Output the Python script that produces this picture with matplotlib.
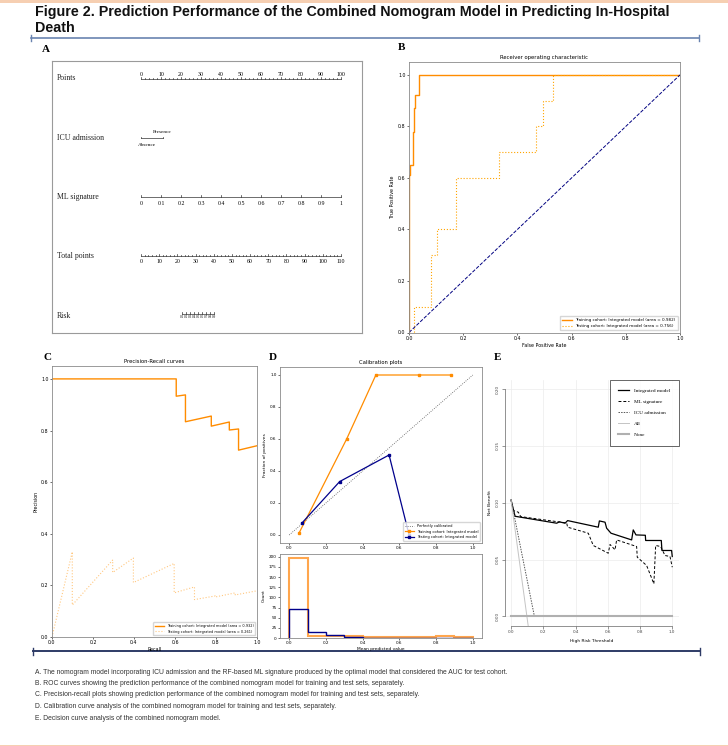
import matplotlib
matplotlib.use("Agg")
import matplotlib.pyplot as plt

W, H = 728, 746

# ---------------- data ----------------
title_lines = [
    "Figure 2. Prediction Performance of the Combined Nomogram Model in Predicting In-Hospital",
    "Death",
]
caption_lines = [
    "A. The nomogram model incorporating ICU admission and the RF-based ML signature produced by the optimal model that considered the AUC for test cohort.",
    "B. ROC curves showing the prediction performance of the combined nomogram model for training and test sets, separately.",
    "C. Precision-recall plots showing prediction performance of the combined nomogram model for training and test sets, separately.",
    "D. Calibration curve analysis of the combined nomogram model for training and test sets, separately.",
    "E. Decision curve analysis of the combined nomogram model.",
]

# A: nomogram
nomo_rows = ["Points", "ICU admission", "ML signature", "Total points", "Risk"]
points_ticks = [0, 10, 20, 30, 40, 50, 60, 70, 80, 90, 100]
icu_levels = ["Absence", "Presence"]
icu_points = [0, 11]
ml_ticks = [0, 0.1, 0.2, 0.3, 0.4, 0.5, 0.6, 0.7, 0.8, 0.9, 1]
ml_labels = ["0", "0.1", "0.2", "0.3", "0.4", "0.5", "0.6", "0.7", "0.8", "0.9", "1"]
total_ticks = [0, 10, 20, 30, 40, 50, 60, 70, 80, 90, 100, 110]
risk_labels = ["0.1", "0.2", "0.3", "0.4", "0.5", "0.6", "0.7", "0.8", "0.9"]
risk_total_pts = [22.4, 24.6, 26.9, 29.1, 31.3, 33.6, 35.8, 38.0, 40.3]

# B: ROC
roc_train_fpr = [0.0, 0.0, 0.005, 0.005, 0.015, 0.015, 0.018, 0.018, 0.023, 0.023, 0.038, 0.038, 1.0]
roc_train_tpr = [0.0, 0.61, 0.61, 0.65, 0.65, 0.78, 0.78, 0.87, 0.87, 0.92, 0.92, 1.0, 1.0]
roc_test_fpr = [0.0, 0.02, 0.02, 0.08, 0.08, 0.105, 0.105, 0.172, 0.172, 0.333, 0.333,
                0.467, 0.467, 0.493, 0.493, 0.53, 0.53, 1.0]
roc_test_tpr = [0.0, 0.0, 0.1, 0.1, 0.3, 0.3, 0.4, 0.4, 0.6, 0.6, 0.7, 0.7, 0.8, 0.8, 0.9, 0.9, 1.0, 1.0]
roc_auc = [0.982, 0.756]
chance = [0.0, 1.0]

# C: precision-recall
pr_train_recall = [0.0, 0.606, 0.606, 0.651, 0.651, 0.777, 0.777, 0.865, 0.865, 0.910, 0.910, 1.0]
pr_train_prec = [1.0, 1.0, 0.933, 0.938, 0.834, 0.856, 0.817, 0.833, 0.802, 0.806, 0.724, 0.741]
pr_test_recall = [0.0, 0.099, 0.099, 0.296, 0.296, 0.397, 0.397, 0.596, 0.596, 0.695, 0.695,
                  0.796, 0.796, 0.894, 0.894, 1.0]
pr_test_prec = [0.0, 0.330, 0.124, 0.298, 0.250, 0.306, 0.211, 0.285, 0.171, 0.194, 0.145,
                0.159, 0.155, 0.171, 0.163, 0.179]
pr_auc = [0.932, 0.261]

# D: calibration
cal_train_x = [0.055, 0.313, 0.472, 0.708, 0.882]
cal_train_y = [0.015, 0.600, 1.0, 1.0, 1.0]
cal_test_x = [0.068, 0.275, 0.544, 0.653]
cal_test_y = [0.073, 0.334, 0.500, 0.0]
hist_edges = [0.0, 0.1, 0.2, 0.3, 0.4, 0.5, 0.6, 0.7, 0.8, 0.9, 1.0]
hist_train = [197, 4, 6, 6, 2, 3, 2, 3, 4, 2]
hist_test = [72, 14, 8, 2, 1, 1, 0, 0, 0, 0]

# E: decision curves
dca_model_x = [0.0, 0.025, 0.283, 0.30, 0.335, 0.351, 0.541, 0.548, 0.583, 0.593, 0.62, 0.748,
               0.758, 0.775, 0.833, 0.835, 0.932, 0.936, 0.996, 1.0]
dca_model_y = [0.1025, 0.0881, 0.082, 0.0832, 0.082, 0.0843, 0.0785, 0.084, 0.0829, 0.0776,
               0.0732, 0.0673, 0.0761, 0.0717, 0.0714, 0.0668, 0.0668, 0.058, 0.058, 0.0527]
dca_ml_x = [0.0, 0.0145, 0.045, 0.06, 0.345, 0.351, 0.479, 0.51, 0.603, 0.614, 0.645, 0.655,
            0.779, 0.783, 0.841, 0.886, 0.897, 0.928, 0.955, 0.986, 1.0]
dca_ml_y = [0.1025, 0.0931, 0.0917, 0.0878, 0.0822, 0.0785, 0.0732, 0.0624, 0.0556, 0.0633,
            0.0586, 0.0673, 0.0615, 0.0521, 0.0448, 0.0287, 0.0624, 0.0615, 0.0536, 0.0527, 0.0433]
dca_icu_x = [0.0, 0.145, 1.0]
dca_icu_y = [0.1025, 0.0, 0.0]
dca_all_x = [0.0, 0.107]
dca_all_y = [0.1025, -0.009]
dca_none_x = [0.0, 1.0]
dca_none_y = [0.0, 0.0]


def box(l, t, r, b):
    """pixel box (left, top, right, bottom) -> figure fraction rect"""
    return [l / W, 1 - b / H, (r - l) / W, (b - t) / H]


def style_mpl_axes(ax, size=3.4):
    ax.tick_params(labelsize=size, length=1.5, width=0.4, pad=1)
    for s in ax.spines.values():
        s.set_color("#8a8a8a")
        s.set_linewidth(0.6)


SANS = ["Liberation Sans", "DejaVu Sans"]
SERIF = ["Liberation Serif", "DejaVu Serif"]

fig = plt.figure(figsize=(W / 100, H / 100), dpi=100)

# ---------------- page decorations ----------------
page = fig.add_axes([0, 0, 1, 1])
page.set_xlim(0, W)
page.set_ylim(H, 0)
page.axis("off")
page.axhspan(0, 2.5, color="#f6cfb2", lw=0)
page.axhspan(744.5, 746, color="#f6cfb2", lw=0)
for i, line in enumerate(title_lines):
    page.text(35, 16 + 16 * i, line, family=SANS, weight="bold", fontsize=10.3, va="baseline",
              color="#111111")
page.plot([31, 699], [38, 38], color="#6a84b0", lw=1.2)
for x in (31, 699):
    page.plot([x, x], [35, 41], color="#6a84b0", lw=1.0)
page.plot([33, 700], [651, 651], color="#2e3b66", lw=1.4)
for x in (33, 700):
    page.plot([x, x], [648, 655], color="#2e3b66", lw=1.0)
for i, line in enumerate(caption_lines):
    page.text(35, 672 + 11.5 * i, line, family=SANS, fontsize=4.9, va="center", color="#333333")
for lab, (x, y) in zip("ABCDE", [(46, 50), (402, 48), (47, 357), (273, 357), (498, 357)]):
    page.text(x, y, lab, family=SERIF, weight="bold", fontsize=8, ha="center", va="center")

# ---------------- A: nomogram ----------------
axA = fig.add_axes(box(52, 61, 362, 333))
axA.set_xlim((52 - 141) / 2, (362 - 141) / 2)
axA.set_ylim(333, 61)
axA.set_xticks([])
axA.set_yticks([])
for s in axA.spines.values():
    s.set_color("#9a9a9a")
    s.set_linewidth(0.8)
row_y = [77.7, 138, 197, 256, 315.5]
for name, y in zip(nomo_rows, row_y):
    axA.text((57 - 141) / 2, y, name, family=SERIF, fontsize=5.6, va="center", color="#222222")
kw = dict(color="#333333", lw=0.5)
# Points
y = 79
axA.plot([points_ticks[0], points_ticks[-1]], [y, y], **kw)
for p in range(0, 101, 2):
    axA.plot([p, p], [y, y - (1.8 if p % 10 == 0 else 1.0)], **kw)
for p in points_ticks:
    axA.text(p, y - 5, str(p), family=SERIF, fontsize=4.2, ha="center", va="center")
# ICU admission
y = 138.3
axA.plot(icu_points, [y, y], **kw)
for p in icu_points:
    axA.plot([p, p], [y, y - 1.5], **kw)
axA.text(icu_points[1] - 5, 131.7, icu_levels[1], family=SERIF, fontsize=3.8, ha="left", va="center")
axA.text(icu_points[0] + 3, 144.7, icu_levels[0], family=SERIF, fontsize=3.8, ha="center", va="center")
# ML signature
y = 196.7
axA.plot([ml_ticks[0] * 100, ml_ticks[-1] * 100], [y, y], **kw)
for v, lab in zip(ml_ticks, ml_labels):
    axA.plot([v * 100, v * 100], [y, y - 1.6], **kw)
    axA.text(v * 100, y + 6.5, lab, family=SERIF, fontsize=4.2, ha="center", va="center")
# Total points
y = 256
scale = 100 / total_ticks[-1]
axA.plot([0, total_ticks[-1] * scale], [y, y], **kw)
for p in range(0, 111, 2):
    axA.plot([p * scale, p * scale], [y, y - (1.8 if p % 10 == 0 else 1.0)], **kw)
for p in total_ticks:
    axA.text(p * scale, y + 5.7, str(p), family=SERIF, fontsize=4.2, ha="center", va="center")
# Risk
y = 313.5
axA.plot([risk_total_pts[0] * scale, risk_total_pts[-1] * scale], [y, y], **kw)
for p, lab in zip(risk_total_pts, risk_labels):
    axA.plot([p * scale, p * scale], [y, y - 1.2], **kw)
    axA.text(p * scale, y + 3, lab, family=SERIF, fontsize=2.4, ha="center", va="center")

# ---------------- B: ROC ----------------
axB = fig.add_axes(box(409, 62, 680, 332.5))
axB.plot(roc_train_fpr, roc_train_tpr, color="darkorange", lw=1.0,
         label=f"Training cohort: Integrated model (area = {roc_auc[0]:.3f})")
axB.plot(roc_test_fpr, roc_test_tpr, color="orange", lw=0.8, ls=":",
         label=f"Testing cohort: Integrated model (area = {roc_auc[1]:.3f})")
axB.plot(chance, chance, color="navy", lw=0.7, ls="--")
axB.set_xlim(0.0, 1.0)
axB.set_ylim(0.0, 1.05)
axB.set_title("Receiver operating characteristic", fontsize=3.8, pad=2)
axB.set_xlabel("False Positive Rate", fontsize=3.4, labelpad=1.5)
axB.set_ylabel("True Positive Rate", fontsize=3.4, labelpad=2)
style_mpl_axes(axB)
axB.legend(loc="lower right", fontsize=3.0, frameon=True, edgecolor="#cccccc", fancybox=True,
           borderpad=0.5, handlelength=2.5)

# ---------------- C: precision-recall ----------------
axC = fig.add_axes(box(52, 366, 257, 637))
axC.plot(pr_train_recall, pr_train_prec, color="darkorange", lw=1.0,
         label=f"Training cohort: Integrated model (area = {pr_auc[0]:.3f})")
axC.plot(pr_test_recall, pr_test_prec, color="#ffc880", lw=0.8, ls=":",
         label=f"Testing cohort: Integrated model (area = {pr_auc[1]:.3f})")
axC.set_xlim(0.0, 1.0)
axC.set_ylim(0.0, 1.05)
axC.set_title("Precision-Recall curves", fontsize=3.8, pad=2)
axC.set_xlabel("Recall", fontsize=3.4, labelpad=1)
axC.set_ylabel("Precision", fontsize=3.4, labelpad=2)
style_mpl_axes(axC)
axC.legend(loc="lower right", fontsize=2.5, frameon=True, edgecolor="#cccccc", borderpad=0.5,
           handlelength=2.5)

# ---------------- D: calibration ----------------
axD = fig.add_axes(box(280, 367, 482, 543))
axD.plot(chance, chance, color="#555555", lw=0.6, ls=":", label="Perfectly calibrated")
axD.plot(cal_train_x, cal_train_y, color="darkorange", lw=0.9, marker="s", ms=1.8,
         label="Training cohort: Integrated model")
axD.plot(cal_test_x, cal_test_y, color="darkblue", lw=0.9, marker="s", ms=1.8,
         label="Testing cohort: Integrated model")
axD.set_xlim(-0.05, 1.05)
axD.set_ylim(-0.05, 1.05)
axD.set_title("Calibration plots", fontsize=3.8, pad=2)
axD.set_ylabel("Fraction of positives", fontsize=3.2, labelpad=2)
style_mpl_axes(axD, 3.0)
axD.legend(loc="lower right", fontsize=2.6, frameon=True, edgecolor="#cccccc", borderpad=0.5,
           handlelength=2.5)

axD2 = fig.add_axes(box(280, 554, 482, 638))
axD2.stairs(hist_train, hist_edges, color="#ffa64d", lw=1.5)
axD2.stairs(hist_test, hist_edges, color="darkblue", lw=1.0)
axD2.set_xlim(-0.05, 1.05)
axD2.set_ylim(0, 207)
axD2.set_yticks([0, 25, 50, 75, 100, 125, 150, 175, 200])
axD2.set_xlabel("Mean predicted value", fontsize=3.2, labelpad=1)
axD2.set_ylabel("Count", fontsize=3.2, labelpad=2)
style_mpl_axes(axD2, 3.0)

# ---------------- E: decision curve ----------------
axE = fig.add_axes(box(504.6, 380, 678.7, 625.5))
axE.set_xlim(-0.04, 1.04)
axE.set_ylim(-0.008, 0.208)
axE.set_xticks([0.0, 0.2, 0.4, 0.6, 0.8, 1.0])
axE.set_yticks([0.0, 0.05, 0.10, 0.15, 0.20])
axE.set_yticklabels(["0.00", "0.05", "0.10", "0.15", "0.20"], rotation=90, va="center")
axE.grid(True, color="#ececec", lw=0.5)
axE.set_axisbelow(True)
axE.plot(dca_model_x, dca_model_y, color="black", lw=0.9, label="Integrated model")
axE.plot(dca_ml_x, dca_ml_y, color="black", lw=0.7, ls=(0, (3, 2)), label="ML signature")
axE.plot(dca_icu_x, dca_icu_y, color="#555555", lw=0.7, ls=(0, (1.5, 1.2)), label="ICU admission")
axE.plot(dca_all_x, dca_all_y, color="#c4c4c4", lw=0.7, label="All")
axE.plot(dca_none_x, dca_none_y, color="#b0b0b0", lw=1.5, label="None")
for side in ("top", "right"):
    axE.spines[side].set_visible(False)
axE.spines["left"].set_bounds(0.0, 0.2)
axE.spines["bottom"].set_bounds(0.0, 1.0)
for side in ("left", "bottom"):
    axE.spines[side].set_color("#666666")
    axE.spines[side].set_linewidth(0.5)
axE.tick_params(labelsize=3.0, length=2, width=0.4, pad=1.5, colors="#444444")
axE.set_xlabel("High Risk Threshold", fontsize=3.2, labelpad=3)
axE.set_ylabel("Net Benefit", fontsize=3.2, labelpad=3)
leg = axE.legend(loc="upper right", bbox_to_anchor=(1.0, 1.0), borderaxespad=0,
                 prop={"family": SERIF, "size": 3.8}, frameon=True, fancybox=False,
                 edgecolor="#222222", borderpad=1.6, labelspacing=1.2, handlelength=2.0,
                 handletextpad=1.0)
leg.get_frame().set_linewidth(0.6)

fig.savefig("out.png", dpi=100)
